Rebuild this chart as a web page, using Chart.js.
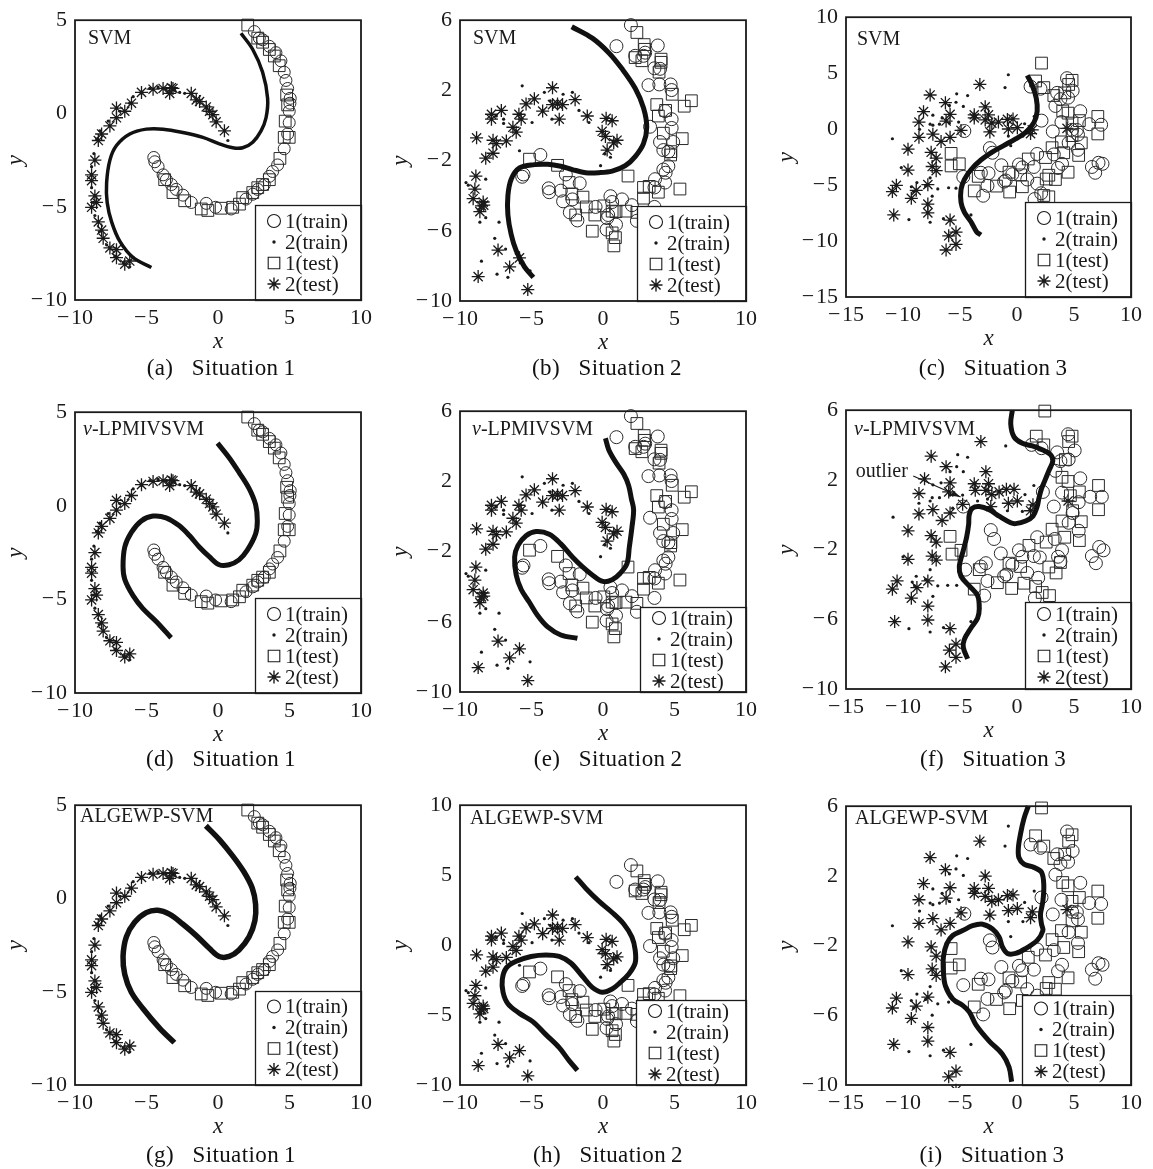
<!DOCTYPE html>
<html><head><meta charset="utf-8">
<script src="https://cdn.jsdelivr.net/npm/chart.js@4.4.1/dist/chart.umd.min.js"></script>
<style>
html,body{margin:0;padding:0;background:#fff;}
body{width:1153px;height:1169px;position:relative;overflow:hidden;font-family:'Liberation Serif',serif;}
canvas{position:absolute;}
.cap{position:absolute;font-size:23px;white-space:pre;transform:translate(-50%,-50%);color:#111;letter-spacing:0.4px;}
</style></head><body>
<script>
// ---------------- Situation 1 (two spirals) ----------------
const s1Train1 = [[-4.49,-2.36],[-4.42,-2.59],[-4.19,-2.85],[-3.84,-3.29],[-3.61,-3.55],[-3.26,-3.81],[-2.92,-4.07],[-2.45,-4.38],[-1.87,-4.77],[-0.82,-4.82],[-0.17,-5.03],[0.92,-5.12],[1.96,-4.59],[2.43,-4.33],[2.78,-4.07],[3.24,-3.81],[3.59,-3.37],[3.82,-3.11],[4.17,-2.76],[4.63,-1.89],[4.87,-1.10],[4.98,-0.49],[4.98,0.12],[5.03,0.55],[5.05,0.81],[4.87,1.34],[4.75,1.77],[4.63,2.21],[4.40,2.82],[4.05,3.26],[3.59,3.60],[3.12,3.95],[2.89,4.04],[2.54,4.39]];
const s1Test1 = [[2.08,4.74],[2.78,4.04],[3.12,3.82],[3.59,3.43],[3.94,3.08],[4.28,2.56],[4.80,0.99],[4.87,0.46],[4.70,-0.41],[4.63,-1.28],[4.98,-1.28],[4.33,-2.41],[3.59,-3.55],[3.12,-3.81],[2.78,-3.98],[2.43,-4.24],[1.73,-4.51],[1.50,-4.86],[1.03,-5.03],[0.22,-5.08],[-0.71,-5.20],[-1.17,-5.12],[-2.33,-4.68],[-3.15,-4.24],[-3.73,-3.55]];
const s1Train2 = [[0.69,-1.45],[-0.13,-0.49],[-0.36,-0.06],[-0.82,0.29],[-1.29,0.64],[-1.87,1.08],[-2.33,1.08],[-2.68,1.13],[-3.03,1.25],[-3.61,1.34],[-4.19,1.42],[-4.77,1.34],[-5.35,1.08],[-5.93,0.90],[-6.17,0.55],[-6.86,0.12],[-7.68,-0.41],[-8.26,-0.93],[-8.49,-1.37],[-8.68,-2.15],[-8.84,-2.85],[-8.84,-3.98],[-8.72,-4.77],[-8.61,-5.47],[-8.30,-6.34],[-7.79,-7.04],[-7.21,-7.65],[-6.63,-8.00],[-6.17,-8.22]];
const s1Test2 = [[0.45,-0.93],[-0.13,-0.45],[-0.36,-0.06],[-0.59,0.12],[-0.82,0.35],[-1.29,0.64],[-1.52,0.73],[-1.87,1.08],[-3.15,1.34],[-3.26,1.38],[-3.38,1.08],[-3.84,1.34],[-4.54,1.30],[-5.35,1.13],[-6.05,0.55],[-6.52,0.12],[-7.10,0.29],[-7.10,-0.23],[-7.56,-0.67],[-8.14,-1.10],[-8.37,-1.45],[-8.61,-2.50],[-8.84,-3.29],[-8.84,-3.60],[-8.61,-4.42],[-8.49,-4.77],[-8.84,-5.03],[-8.37,-5.81],[-8.14,-6.25],[-8.03,-6.69],[-7.56,-7.21],[-7.10,-7.30],[-7.10,-7.73],[-6.52,-8.08],[-6.17,-7.91]];
const bndA = [[1.61,4.30],[2.43,3.43],[3.12,2.21],[3.47,0.81],[3.36,-0.23],[3.01,-0.93],[2.43,-1.54],[1.73,-1.84],[1.03,-1.84],[0.10,-1.63],[-1.06,-1.28],[-2.45,-1.02],[-3.84,-0.84],[-5.01,-0.84],[-6.17,-1.10],[-7.10,-1.72],[-7.56,-2.50],[-7.79,-3.72],[-7.75,-4.77],[-7.44,-5.81],[-6.86,-6.86],[-5.93,-7.73],[-4.66,-8.26]];
const bndD = [[-0.03,3.35],[0.78,2.57],[1.47,1.79],[2.17,0.93],[2.63,0.06],[2.75,-0.81],[2.63,-1.50],[2.05,-2.37],[1.47,-2.89],[0.78,-3.15],[0.08,-3.15],[-0.61,-2.72],[-1.31,-2.20],[-2.00,-1.59],[-2.70,-1.07],[-3.63,-0.64],[-4.55,-0.55],[-5.37,-0.81],[-6.06,-1.42],[-6.52,-2.20],[-6.64,-3.24],[-6.52,-3.93],[-5.94,-4.80],[-5.25,-5.49],[-4.32,-6.18],[-3.28,-7.05]];
const bndG = [[-0.85,3.90],[0.08,3.17],[1.01,2.30],[1.82,1.42],[2.40,0.55],[2.63,-0.32],[2.58,-1.19],[2.17,-2.06],[1.47,-2.76],[0.78,-3.11],[0.08,-3.11],[-0.61,-2.67],[-1.54,-1.98],[-2.47,-1.37],[-3.40,-0.84],[-4.21,-0.63],[-5.02,-0.76],[-5.83,-1.28],[-6.41,-2.06],[-6.64,-3.11],[-6.52,-4.07],[-6.06,-5.03],[-5.25,-5.90],[-4.09,-6.95],[-3.05,-7.73]];

// ---------------- Situation 2 (noisy spirals) ----------------
const s2Train1 = [[1.95,5.72],[0.94,4.52],[2.25,3.97],[2.95,4.15],[3.83,4.56],[2.83,3.97],[3.60,3.26],[3.99,3.23],[3.18,2.30],[3.94,2.34],[4.73,2.34],[4.80,2.02],[4.34,0.82],[4.80,0.36],[4.80,-0.14],[3.29,-0.07],[3.99,-0.94],[4.22,-1.40],[4.91,-0.94],[4.57,-1.49],[4.57,-2.32],[4.22,-2.51],[4.38,-2.69],[4.34,-3.25],[3.64,-3.06],[3.60,-3.53],[3.60,-4.64],[-4.38,-1.68],[-5.65,-2.92],[-5.56,-2.79],[-3.80,-3.58],[-3.76,-3.80],[-2.95,-3.71],[-2.60,-2.79],[-2.79,-4.32],[-2.14,-4.21],[-1.63,-3.29],[-2.32,-4.95],[-1.79,-5.41],[-0.52,-4.64],[0.52,-4.03],[0.64,-4.36],[1.33,-4.21],[0.36,-5.10],[0.29,-5.28],[0.25,-5.93],[0.91,-5.65],[2.02,-4.54],[2.37,-5.43]];
const s2Test1 = [[2.37,5.30],[2.88,4.61],[2.91,4.34],[2.25,3.87],[2.72,3.69],[4.06,3.78],[4.06,3.60],[3.92,3.04],[3.76,1.19],[4.84,1.78],[4.38,0.86],[3.87,0.54],[5.68,1.10],[6.18,1.41],[4.22,-0.44],[5.54,-0.75],[4.75,-1.49],[4.73,-1.68],[-5.14,-1.92],[-3.18,-2.27],[-2.37,-3.25],[-2.18,-3.90],[-1.40,-4.08],[-1.17,-4.64],[-1.91,-5.10],[-0.57,-5.10],[-0.75,-6.02],[0.06,-4.58],[0.64,-4.88],[0.91,-4.91],[1.61,-4.88],[1.75,-2.88],[2.83,-3.53],[3.23,-3.47],[2.83,-4.14],[3.87,-3.80],[5.38,-3.62],[0.64,-6.12],[0.76,-6.86],[0.87,-6.39],[2.37,-4.95]];
const s2Train2 = [[-5.65,2.26],[-4.10,1.89],[-3.69,1.41],[-2.79,1.78],[-2.14,1.89],[-1.68,0.86],[-0.98,0.17],[-4.96,0.17],[-3.57,0.36],[-6.95,0.36],[-6.95,0.12],[-7.46,0.54],[-8.20,-3.06],[-9.58,-3.25],[-9.42,-3.40],[-8.61,-5.51],[-8.20,-5.25],[-7.27,-5.51],[-7.57,-6.43],[-6.81,-7.04],[-7.41,-8.47],[-6.65,-8.65],[-8.50,-7.73],[-5.10,-8.28],[-0.17,-2.29],[0.52,-1.81],[0.13,-1.62],[-5.84,-1.44]];
const s2Test2 = [[-3.53,2.15],[-4.80,1.52],[-5.38,1.23],[-1.95,1.47],[-3.53,1.19],[-3.18,1.23],[-2.83,1.19],[-4.22,0.82],[-3.06,0.36],[-1.10,0.54],[0.22,0.41],[0.64,0.27],[-0.06,-0.33],[0.17,-0.62],[0.98,-0.84],[0.75,-0.99],[0.29,-1.40],[-5.88,0.64],[-5.72,0.36],[-6.30,-0.10],[-6.07,-0.38],[-7.80,0.64],[-7.80,0.36],[-7.11,0.86],[-7.69,-0.84],[-7.46,-1.03],[-6.76,-0.88],[-8.84,-0.70],[-7.69,-1.58],[-8.20,-1.86],[-8.89,-2.88],[-8.96,-3.62],[-9.08,-4.17],[-8.38,-4.36],[-8.50,-4.58],[-8.61,-4.91],[-8.34,-4.54],[-7.34,-7.10],[-6.53,-8.06],[-5.84,-7.54],[-8.73,-8.61],[-5.26,-9.35]];
const bndB = [[-2.19,5.63],[-0.75,4.98],[0.40,4.15],[1.33,3.23],[2.25,2.12],[2.83,1.01],[3.06,-0.10],[2.83,-1.03],[2.25,-1.77],[1.56,-2.29],[0.64,-2.60],[-0.29,-2.69],[-1.21,-2.69],[-2.14,-2.51],[-2.95,-2.32],[-3.87,-2.21],[-4.80,-2.23],[-5.84,-2.42],[-6.42,-3.06],[-6.65,-3.99],[-6.65,-5.10],[-6.42,-6.21],[-6.07,-7.13],[-5.49,-8.06],[-4.87,-8.65]];
const bndE = [[0.17,4.46],[0.40,3.81],[0.91,3.07],[1.45,2.42],[1.79,1.77],[1.98,1.03],[2.14,0.38],[2.02,-0.64],[1.84,-1.75],[1.68,-2.68],[1.21,-3.23],[0.64,-3.60],[-0.01,-3.70],[-0.75,-3.33],[-1.45,-2.86],[-2.14,-2.31],[-2.95,-1.56],[-3.76,-1.01],[-4.68,-0.86],[-5.38,-1.10],[-5.95,-1.66],[-6.18,-2.31],[-6.07,-3.33],[-5.72,-4.16],[-5.14,-4.90],[-4.57,-5.64],[-3.87,-6.29],[-2.95,-6.75],[-1.79,-6.94]];
const bndH = [[-1.91,4.88],[-1.21,4.07],[-0.29,3.14],[0.64,2.33],[1.45,1.51],[2.02,0.58],[2.25,-0.35],[2.25,-1.28],[1.79,-2.09],[1.21,-2.67],[0.64,-3.14],[-0.06,-3.37],[-0.75,-3.02],[-1.45,-2.21],[-2.25,-1.28],[-3.06,-0.81],[-3.99,-0.70],[-5.03,-0.81],[-6.07,-1.16],[-6.76,-1.63],[-7.04,-2.44],[-6.99,-3.37],[-6.65,-4.19],[-5.84,-4.88],[-4.91,-5.47],[-3.99,-6.40],[-3.06,-7.33],[-2.37,-8.26],[-1.79,-8.95]];

// ---------------- Situation 3 (overlapping clouds) (c) and (i) ----------------
const s3Train1 = [[4.39,4.55],[1.19,3.80],[2.06,3.61],[3.52,3.24],[3.81,2.68],[3.37,2.07],[4.48,2.81],[4.88,3.43],[5.55,1.60],[6.34,0.44],[7.38,0.39],[3.90,0.63],[3.14,-0.21],[2.15,0.76],[4.83,-0.06],[5.25,-0.08],[5.35,-0.49],[4.53,-1.23],[5.35,-1.85],[-4.62,-0.17],[-2.38,-1.70],[-2.15,-2.11],[1.77,-2.22],[3.23,-2.26],[3.95,-3.10],[3.60,-3.47],[-1.37,-3.23],[0.17,-3.16],[0.47,-3.42],[1.48,-3.38],[-0.41,-4.03],[-0.99,-4.59],[-1.13,-4.69],[0.90,-4.50],[1.77,-4.87],[-2.59,-5.06],[-2.50,-3.94],[-3.17,-3.90],[-4.71,-4.27],[-2.97,-5.95],[6.57,-3.38],[6.86,-3.90],[7.15,-3.01],[7.50,-3.10],[1.54,-6.25],[2.12,-5.73]];
const s3Test1 = [[2.15,5.90],[1.63,4.30],[2.35,3.71],[4.83,4.36],[4.53,3.99],[4.19,3.24],[3.23,3.00],[4.01,1.62],[4.48,1.43],[5.47,0.76],[4.83,0.54],[7.09,1.13],[7.09,-0.43],[4.83,-0.58],[3.90,-1.14],[5.64,-1.23],[3.08,-1.66],[4.10,-2.11],[5.41,-2.35],[2.50,-2.54],[0.99,-2.67],[-0.70,-3.85],[0.32,-4.09],[3.37,-4.50],[2.79,-4.12],[4.48,-3.85],[-0.64,-5.62],[0.47,-5.15],[2.56,-4.46],[-1.80,-5.09],[-3.75,-5.52],[-3.40,-4.22],[-5.78,-2.17],[-5.78,-3.29],[-5.06,-3.10],[2.35,-5.93],[2.79,-6.05]];
const s3Train2 = [[-10.93,-0.86],[-7.38,0.35],[-8.55,-0.02],[-5.93,2.12],[-5.29,3.15],[-4.33,3.00],[-5.35,2.40],[-4.71,2.03],[-5.12,0.63],[-5.93,0.54],[-6.57,1.00],[-6.80,0.44],[-0.76,4.86],[-1.05,3.71],[-2.44,-0.21],[-3.66,1.09],[1.51,1.13],[0.67,0.48],[-0.76,-0.62],[0.52,-0.62],[-0.55,-1.48],[-7.38,1.25],[-7.62,0.44],[-10.15,-3.44],[-9.27,-5.15],[-9.07,-5.58],[-8.78,-4.78],[-8.02,-5.09],[-7.62,-4.35],[-7.44,-5.99],[-6.95,-5.34],[-6.00,-5.24],[-5.35,-5.28],[-9.48,-8.08],[-7.62,-8.32],[-6.45,-8.00],[-4.04,-7.67]];
const s3Test2 = [[-3.26,3.99],[-7.62,3.05],[-6.28,2.36],[-2.79,1.99],[-8.20,1.56],[-8.60,0.63],[-8.60,-0.73],[-7.38,-0.45],[-5.87,1.32],[-6.22,0.72],[-5.87,-0.73],[-6.66,-1.10],[-3.75,1.28],[-3.75,1.00],[-2.50,1.28],[-2.79,0.82],[-2.21,0.54],[-1.63,0.63],[-0.84,0.87],[-0.35,0.91],[-0.76,0.01],[0.03,0.13],[1.34,-0.06],[1.19,-0.40],[-2.38,-0.25],[-4.91,-0.12],[4.39,0.07],[-9.56,-1.79],[-7.53,-2.07],[-7.09,-2.60],[-7.44,-3.34],[-7.09,-3.71],[-9.56,-3.66],[-10.58,-5.02],[-10.93,-5.58],[-8.84,-5.47],[-9.27,-6.18],[-7.82,-4.96],[-7.82,-6.70],[-7.82,-7.48],[-10.81,-7.67],[-5.87,-8.13],[-5.35,-9.20],[-5.99,-9.53],[-5.35,-10.30],[-6.22,-10.80]];
const bndC = [[0.90,4.80],[1.34,3.92],[1.69,2.76],[1.77,1.60],[1.48,0.58],[0.76,-0.29],[-0.12,-0.87],[-1.13,-1.45],[-2.15,-2.03],[-3.17,-2.76],[-4.04,-3.63],[-4.62,-4.51],[-4.91,-5.38],[-4.91,-6.54],[-4.62,-7.41],[-4.04,-8.28],[-3.55,-9.16],[-3.17,-9.45]];
const bndI = [[0.99,6.00],[0.61,5.29],[0.32,4.45],[0.12,3.61],[0.17,3.05],[0.61,2.68],[1.48,2.49],[2.15,2.21],[2.35,1.47],[2.27,0.54],[2.06,-0.21],[2.15,-0.77],[2.27,-1.14],[1.77,-1.70],[0.76,-2.17],[-0.12,-2.45],[-0.84,-2.45],[-1.28,-2.07],[-1.57,-1.51],[-2.15,-1.05],[-3.02,-0.77],[-3.90,-0.86],[-4.77,-1.14],[-5.64,-1.42],[-6.16,-1.89],[-6.45,-2.63],[-6.45,-3.57],[-6.28,-4.31],[-5.64,-5.06],[-4.77,-5.43],[-4.19,-5.80],[-3.60,-6.55],[-2.44,-7.48],[-1.28,-8.23],[-0.70,-8.97],[-0.47,-9.81]];

// ---------------- Situation 3 ----------------
const s3fTrain1 = [[1.28,4.01],[2.15,3.82],[3.52,3.58],[3.81,3.08],[3.37,2.52],[4.48,4.62],[4.53,3.17],[5.06,3.69],[5.55,2.09],[6.42,1.03],[7.44,1.03],[3.95,1.27],[3.23,0.47],[2.27,1.31],[4.88,0.10],[5.41,0.72],[4.53,-0.46],[5.41,-0.92],[-2.30,-0.88],[-2.01,-1.39],[-4.71,0.47],[1.77,-1.29],[3.31,-1.39],[3.95,-2.04],[3.60,-2.41],[3.81,-2.69],[-1.42,-2.22],[0.17,-2.04],[0.47,-2.41],[1.48,-2.37],[2.00,-2.45],[-0.41,-2.87],[-0.93,-3.43],[-1.13,-3.53],[0.90,-3.34],[1.86,-3.62],[-2.59,-3.80],[-2.73,-2.78],[-3.17,-2.97],[-4.53,-3.15],[-2.88,-4.64],[1.57,-4.79],[6.57,-2.37],[6.92,-2.78],[7.21,-1.85],[7.59,-2.04]];
const s3fTest1 = [[2.44,5.95],[1.69,4.51],[2.35,4.01],[4.83,4.51],[4.53,4.20],[4.24,3.17],[3.95,2.15],[4.48,1.91],[5.47,1.31],[4.68,1.09],[7.15,1.68],[7.15,0.29],[4.88,0.23],[3.95,-0.36],[5.64,-0.40],[3.08,-0.83],[4.19,-1.29],[5.47,-1.48],[2.56,-1.57],[1.05,-1.76],[-0.70,-2.78],[0.32,-2.97],[2.79,-3.00],[3.43,-3.34],[3.81,-2.74],[-0.47,-4.23],[0.61,-3.93],[1.63,-4.12],[2.21,-4.46],[2.85,-4.64],[-1.72,-3.90],[-3.75,-4.27],[-3.31,-3.15],[-5.87,-1.24],[-5.70,-2.26],[-4.91,-2.04]];
const s3fTrain2 = [[-10.87,-0.14],[-7.44,0.98],[-8.60,0.66],[-5.87,2.47],[-5.20,3.45],[-4.33,3.30],[-5.29,2.76],[-4.71,2.47],[-4.77,1.13],[-5.87,1.13],[-6.66,1.83],[-6.80,0.98],[-5.64,0.38],[-0.99,3.95],[-2.59,0.90],[-3.46,0.79],[-3.66,1.83],[1.48,1.68],[0.70,1.16],[-0.84,0.23],[0.47,0.19],[-7.38,1.72],[-7.62,0.79],[-10.00,-2.41],[-9.19,-3.86],[-8.98,-4.08],[-8.84,-3.53],[-8.02,-3.71],[-7.62,-3.15],[-7.38,-4.68],[-6.95,-4.08],[-6.08,-4.05],[-5.29,-4.05],[-9.48,-6.54],[-7.62,-6.73],[-6.45,-6.47],[-4.04,-6.13]];
const s3fTest2 = [[-3.17,4.20],[-7.53,3.36],[-6.22,2.76],[-2.73,2.47],[-8.11,2.06],[-8.60,1.22],[-8.60,0.05],[-7.38,0.29],[-5.87,1.83],[-5.99,1.31],[-5.87,0.10],[-6.57,-0.33],[-3.75,1.78],[-3.66,1.40],[-2.50,1.78],[-2.73,1.40],[-2.21,1.16],[-1.57,1.31],[-0.93,1.46],[-0.26,1.46],[-0.76,0.66],[0.03,0.79],[1.40,0.57],[1.19,0.23],[-2.30,0.47],[-4.77,0.60],[4.48,0.79],[-9.56,-0.92],[-7.53,-1.20],[-7.09,-1.57],[-7.44,-2.37],[-7.09,-2.60],[-9.56,-2.56],[-10.52,-3.80],[-10.93,-4.27],[-8.78,-4.18],[-9.27,-4.79],[-7.82,-3.80],[-7.82,-5.24],[-7.82,-6.04],[-10.73,-6.13],[-5.87,-6.54],[-5.35,-7.43],[-5.93,-7.77],[-5.35,-8.18],[-6.28,-8.73]];
const bndF = [[-0.41,6.00],[-0.55,5.22],[-0.26,4.47],[0.47,4.10],[1.34,3.95],[2.21,3.73],[2.94,3.45],[3.14,3.08],[2.79,2.52],[2.44,1.96],[2.15,1.50],[1.92,0.94],[1.77,0.47],[1.40,-0.08],[0.76,-0.36],[-0.12,-0.51],[-0.55,-0.46],[-1.57,-0.08],[-2.44,0.29],[-3.31,0.47],[-3.90,0.38],[-4.19,0.01],[-4.24,-0.55],[-4.42,-1.29],[-4.71,-2.04],[-5.06,-2.97],[-4.91,-3.53],[-4.19,-4.08],[-3.46,-4.64],[-3.31,-5.39],[-3.46,-5.94],[-4.04,-6.50],[-4.62,-7.15],[-4.71,-7.62],[-4.33,-8.27]];

// ---------------- Tick values and texts ----------------
const ticksX12 = [-10,-5,0,5,10];
const ticksX3 = [-15,-10,-5,0,5,10];
const ticksY1 = [-10,-5,0,5];
const ticksY2 = [-10,-6,-2,2,6];
const ticksY2b = [-10,-5,0,5,10];
const ticksY3a = [-15,-10,-5,0,5,10];
const ticksY3b = [-10,-6,-2,2,6];
const legendLabels = ['1(train)','2(train)','1(test)','2(test)'];
const methodNames = ['SVM','v-LPMIVSVM','ALGEWP-SVM'];
const captions = ['(a)   Situation\u20091','(b)   Situation\u20092','(c)   Situation\u20093','(d)   Situation\u20091','(e)   Situation\u20092','(f)   Situation\u20093','(g)   Situation\u20091','(h)   Situation\u20092','(i)   Situation\u20093'];
const outlierNote = {text:'outlier', tx:-14.15, ty:2.45, x0:-9.1, y0:2.22, x1:-4.95, y1:1.02};

// ---------------- Layout (plot area positions in page pixels) ----------------
const FONT = "'Liberation Serif', 'Times New Roman', serif";
const PANELS = [
 {L:75, T:13, W:288,H:287, data:[s1Train1,s1Train2,s1Test1,s1Test2], bnd:bndA, lw:3.5, xr:[-10,10], yr:[-10,5], xt:ticksX12, yt:ticksY1, m:0, lgW:106, lgH:95, cx:221, cy:368, labX:13, labY:19, r:6},
 {L:460,T:13, W:288,H:288, data:[s2Train1,s2Train2,s2Test1,s2Test2], bnd:bndB, lw:5, xr:[-10,10], yr:[-10,6], xt:ticksX12, yt:ticksY2, m:0, lgW:109, lgH:95, cx:607, cy:368, labX:13, labY:19, r:6.5},
 {L:846,T:10, W:287,H:287, data:[s3Train1,s3Train2,s3Test1,s3Test2], bnd:bndC, lw:5, xr:[-15,10], yr:[-15,10], xt:ticksX3, yt:ticksY3a, m:0, lgW:106, lgH:95, cx:993, cy:368, labX:11, labY:23, r:6.5},
 {L:75, T:405,W:288,H:288, data:[s1Train1,s1Train2,s1Test1,s1Test2], bnd:bndD, lw:5, xr:[-10,10], yr:[-10,5], xt:ticksX12, yt:ticksY1, m:1, lgW:106, lgH:95, cx:221, cy:759, labX:8, labY:18, r:6},
 {L:460,T:404,W:288,H:288, data:[s2Train1,s2Train2,s2Test1,s2Test2], bnd:bndE, lw:5, xr:[-10,10], yr:[-10,6], xt:ticksX12, yt:ticksY2, m:1, lgW:106, lgH:85, cx:608, cy:759, labX:12, labY:19, r:6.5},
 {L:846,T:403,W:287,H:286, data:[s3fTrain1,s3fTrain2,s3fTest1,s3fTest2], bnd:bndF, lw:5, xr:[-15,10], yr:[-10,6], xt:ticksX3, yt:ticksY3b, m:1, lgW:106, lgH:87, cx:993, cy:759, labX:8, labY:20, r:6.5, note:true},
 {L:75, T:798,W:288,H:287, data:[s1Train1,s1Train2,s1Test1,s1Test2], bnd:bndG, lw:5.5, xr:[-10,10], yr:[-10,5], xt:ticksX12, yt:ticksY1, m:2, lgW:106, lgH:94, cx:221, cy:1155, labX:5, labY:12, r:6},
 {L:460,T:798,W:288,H:287, data:[s2Train1,s2Train2,s2Test1,s2Test2], bnd:bndH, lw:5, xr:[-10,10], yr:[-10,10], xt:ticksX12, yt:ticksY2b, m:2, lgW:110, lgH:85, cx:608, cy:1155, labX:10, labY:14, r:6.5},
 {L:846,T:799,W:287,H:286, data:[s3Train1,s3Train2,s3Test1,s3Test2], bnd:bndI, lw:5, xr:[-15,10], yr:[-10,6], xt:ticksX3, yt:ticksY3b, m:2, lgW:109, lgH:90, cx:992, cy:1155, labX:9, labY:13, r:6.5}
];

const PADL = 75, PADT = 14, PADR = 14, XAXH = 58;
const INK = '#1a1a1a';

function fmt(v){ return v < 0 ? '\u2212\u200a' + Math.abs(v) : String(v); }
const pts = arr => arr.map(([x,y]) => ({x, y}));

function drawSym(ctx, kind, x, y, r){
  ctx.save();
  ctx.strokeStyle = INK; ctx.fillStyle = INK; ctx.lineWidth = 1.1;
  ctx.beginPath();
  if (kind === 0) { ctx.arc(x, y, r, 0, Math.PI*2); ctx.stroke(); }
  else if (kind === 1) { ctx.arc(x, y, 1.7, 0, Math.PI*2); ctx.fill(); }
  else if (kind === 2) { const s = 5.8; ctx.rect(x-s, y-s, 2*s, 2*s); ctx.stroke(); }
  else {
    for (let k = 0; k < 4; k++) { const a = k*Math.PI/4; ctx.moveTo(x - r*Math.cos(a), y - r*Math.sin(a)); ctx.lineTo(x + r*Math.cos(a), y + r*Math.sin(a)); }
    ctx.lineWidth = 1.4; ctx.stroke();
  }
  ctx.restore();
}

const panelPlugin = {
  id: 'panelDeco',
  afterDatasetsDraw(chart) {
    const p = chart.options.plugins.panelDeco.p;
    const {ctx, chartArea: a} = chart;
    ctx.save();
    // legend box
    const bx = a.right - p.lgW, by = a.bottom - p.lgH;
    ctx.fillStyle = '#fff'; ctx.fillRect(bx, by, p.lgW, p.lgH);
    ctx.strokeStyle = INK; ctx.lineWidth = 1.3; ctx.strokeRect(bx + 0.5, by + 0.5, p.lgW, p.lgH);
    ctx.font = '21px ' + FONT; ctx.textBaseline = 'middle'; ctx.textAlign = 'left'; ctx.fillStyle = INK;
    const y0 = by + p.lgH/2 - 31.5;
    legendLabels.forEach((t, i) => {
      const yy = y0 + i*21;
      drawSym(ctx, i === 0 ? 0 : i === 1 ? 1 : i === 2 ? 2 : 3, bx + 19, yy, 6.5);
      ctx.fillText(t, bx + 30, yy + 1);
    });
    // method label
    const name = methodNames[p.m];
    ctx.font = '20px ' + FONT; ctx.textBaseline = 'middle';
    let lx = a.left + p.labX, ly = a.top + p.labY;
    if (name.startsWith('v-')) {
      ctx.font = 'italic 20px ' + FONT; ctx.fillText('v', lx, ly);
      const w = ctx.measureText('v').width;
      ctx.font = '20px ' + FONT; ctx.fillText(name.slice(1), lx + w, ly);
    } else {
      ctx.fillText(name, lx, ly);
    }
    // outlier note
    if (p.note) {
      const xs = chart.scales.x, ys = chart.scales.y;
      ctx.font = '20px ' + FONT;
      ctx.fillText(outlierNote.text, xs.getPixelForValue(outlierNote.tx), ys.getPixelForValue(outlierNote.ty));
      const X0 = xs.getPixelForValue(outlierNote.x0), Y0 = ys.getPixelForValue(outlierNote.y0);
      const X1 = xs.getPixelForValue(outlierNote.x1), Y1 = ys.getPixelForValue(outlierNote.y1);
      ctx.strokeStyle = INK; ctx.lineWidth = 1.2;
      ctx.beginPath(); ctx.moveTo(X0, Y0); ctx.lineTo(X1, Y1); ctx.stroke();
      const ang = Math.atan2(Y1 - Y0, X1 - X0), hl = 12, hw = 0.3;
      ctx.beginPath(); ctx.moveTo(X1, Y1);
      ctx.lineTo(X1 - hl*Math.cos(ang - hw), Y1 - hl*Math.sin(ang - hw));
      ctx.lineTo(X1 - hl*0.7*Math.cos(ang), Y1 - hl*0.7*Math.sin(ang));
      ctx.lineTo(X1 - hl*Math.cos(ang + hw), Y1 - hl*Math.sin(ang + hw));
      ctx.closePath(); ctx.fill();
    }
    // frame
    ctx.strokeStyle = INK; ctx.lineWidth = 1.8;
    ctx.strokeRect(a.left, a.top, a.right - a.left, a.bottom - a.top);
    ctx.restore();
  }
};

PANELS.forEach((p, idx) => {
  const cv = document.createElement('canvas');
  const W = PADL + p.W + PADR, H = PADT + p.H + XAXH;
  cv.width = W; cv.height = H;
  cv.style.left = (p.L - PADL) + 'px'; cv.style.top = (p.T - PADT) + 'px';
  cv.style.width = W + 'px'; cv.style.height = H + 'px';
  document.body.appendChild(cv);

  const cap = document.createElement('div');
  cap.className = 'cap'; cap.textContent = captions[idx];
  cap.style.left = p.cx + 'px'; cap.style.top = p.cy + 'px';
  document.body.appendChild(cap);

  const [tr1, tr2, te1, te2] = p.data;
  const tickFont = {family: FONT, size: 22};
  new Chart(cv, {
    type: 'scatter',
    data: { datasets: [
      {type:'line', data: pts(p.bnd), borderColor:'#111', borderWidth:p.lw, pointRadius:0, tension:0.35, fill:false, showLine:true, borderCapStyle:'butt', borderJoinStyle:'round', clip:2},
      {data: pts(tr1), pointStyle:'circle', pointRadius:p.r, borderColor:'#2a2a2a', backgroundColor:'rgba(0,0,0,0)', borderWidth:1, clip:8},
      {data: pts(tr2), pointStyle:'circle', pointRadius:1.6, borderColor:INK, backgroundColor:INK, borderWidth:0, clip:4},
      {data: pts(te1), pointStyle:'rect', pointRadius:8.3, borderColor:'#2a2a2a', backgroundColor:'rgba(0,0,0,0)', borderWidth:1, clip:8},
      {data: pts(te2), pointStyle:'star', pointRadius:6.5, borderColor:INK, backgroundColor:INK, borderWidth:1.3, clip:3}
    ]},
    options: {
      responsive:false, animation:false, devicePixelRatio:1, events:[],
      layout:{padding:{left:0, top:PADT, right:PADR, bottom:0}},
      plugins:{legend:{display:false}, tooltip:{enabled:false}, panelDeco:{p}},
      scales:{
        x:{type:'linear', min:p.xr[0], max:p.xr[1],
           afterBuildTicks: s => { s.ticks = p.xt.map(v => ({value:v})); },
           afterFit: s => { s.height = XAXH; },
           grid:{display:false, drawTicks:false}, border:{display:false},
           ticks:{font:tickFont, color:INK, padding:5, maxRotation:0, autoSkip:false, callback: v => fmt(v)},
           title:{display:true, text:'x', font:{family:FONT, size:23, style:'italic'}, color:INK, padding:{top:0, bottom:2}}},
        y:{type:'linear', min:p.yr[0], max:p.yr[1],
           afterBuildTicks: s => { s.ticks = p.yt.map(v => ({value:v})); },
           afterFit: s => { s.width = PADL; },
           grid:{display:false, drawTicks:false}, border:{display:false},
           ticks:{font:tickFont, color:INK, padding:8, autoSkip:false, callback: v => fmt(v)},
           title:{display:true, text:'y', font:{family:FONT, size:23, style:'italic'}, color:INK, padding:{top:2, bottom:0}}}
      }
    },
    plugins:[panelPlugin]
  });
});
</script>
</body></html>
